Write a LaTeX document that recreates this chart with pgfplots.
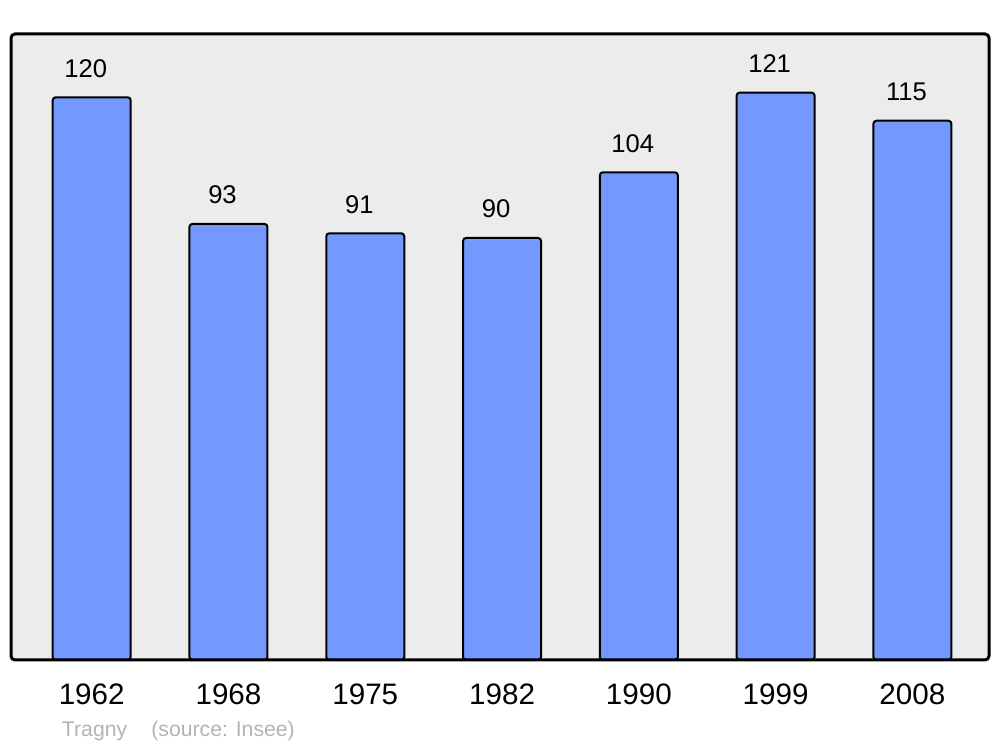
\documentclass[border=0pt]{standalone}
\usepackage{pgfplots}
\pgfplotsset{compat=1.18}
\usepackage{fontspec}
\setmainfont{Liberation Sans}
\definecolor{barfill}{HTML}{7399FF}
\definecolor{bgfill}{HTML}{ECECEC}
\definecolor{srcgray}{HTML}{B3B3B3}
\begin{document}
\begin{tikzpicture}
\path[use as bounding box] (-5.5pt,-43.5pt) rectangle (494.5pt,330pt);
\begin{axis}[
  at={(0,0)}, anchor=south west,
  scale only axis,
  width=489pt, height=313pt,
  xmin=-0.59, xmax=6.56,
  ymin=0, ymax=133.5,
  axis line style={draw=none},
  axis background/.style={fill=bgfill},
  ytick=\empty,
  xtick={0,1,2,3,4,5,6},
  xticklabels={1962,1968,1975,1982,1990,1999,2008},
  major tick length=0pt,
  xticklabel style={anchor=base, yshift=-22.5pt, font=\fontsize{14.8}{16}\selectfont},
  /pgf/number format/assume math mode=true,
  clip=false,
  after end axis/.code={
    \draw[line width=1.5pt, rounded corners=2pt] (rel axis cs:0,0) rectangle (rel axis cs:1,1);
  },
]
\addplot[ybar, bar width=39pt, fill=barfill, draw=black, line width=1pt, rounded corners=1.5pt,
  nodes near coords,
  every node near coord/.append style={anchor=base, yshift=10pt, xshift=-3pt, font=\fontsize{12.8}{14}\selectfont, text=black}]
  coordinates {(0,120) (1,93) (2,91) (3,90) (4,104) (5,121) (6,115)};
\end{axis}
\node[anchor=base west, text=srcgray, font=\fontsize{10.6}{12}\selectfont, inner sep=0pt] at (25.3pt,-38.3pt) {Tragny};
\node[anchor=base west, text=srcgray, font=\fontsize{10.6}{12}\selectfont, inner sep=0pt] at (70pt,-38.3pt) {(source: Insee)};
\end{tikzpicture}
\end{document}
